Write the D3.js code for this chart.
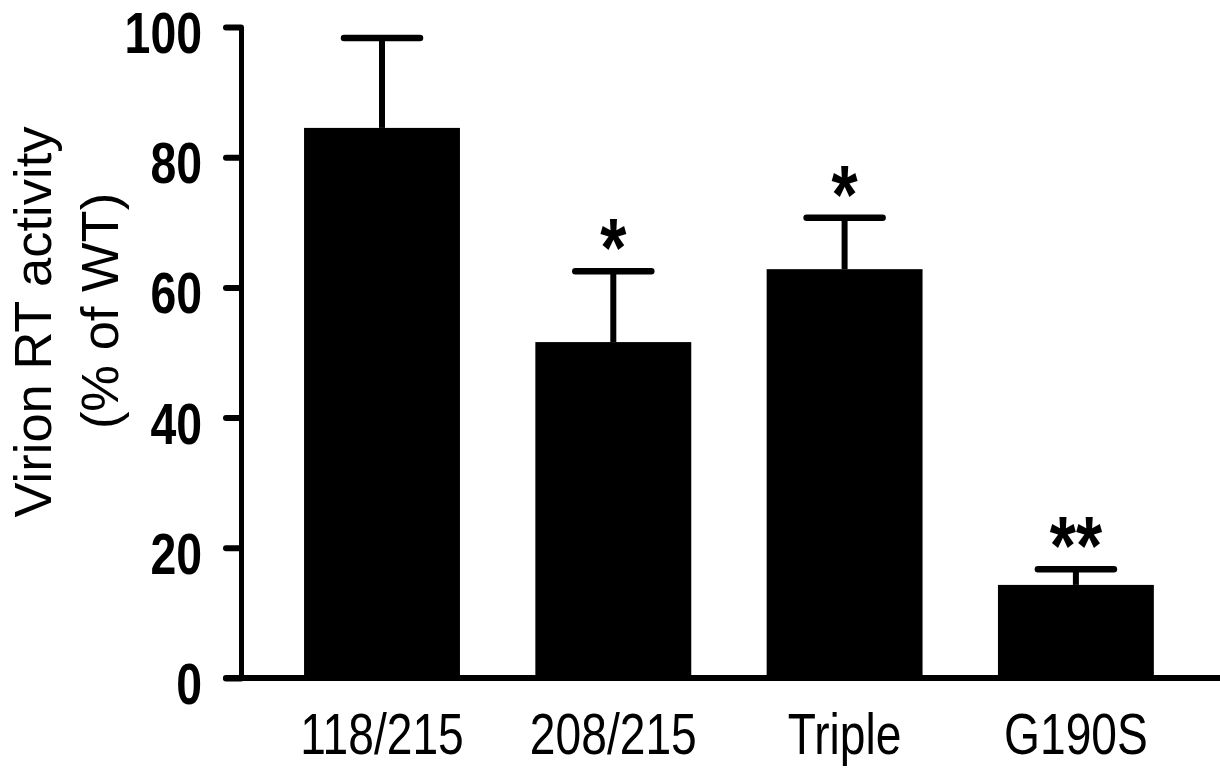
<!DOCTYPE html>
<html>
<head>
<meta charset="utf-8">
<script src="https://cdn.jsdelivr.net/npm/d3@7"></script>
<style>
  html, body { margin: 0; padding: 0; background: #fff; }
  svg { display: block; }
</style>
</head>
<body>
<svg id="chart" width="1220" height="768"></svg>
<script>
const categories = ["118/215", "208/215", "Triple", "G190S"];
const values     = [84.5, 51.6, 62.8, 14.3];
const errors     = [13.8, 10.9, 7.9, 2.4];
const stars      = ["", "*", "*", "**"];
const yTicks     = [0, 20, 40, 60, 80, 100];
const yTitle     = ["Virion RT activity", "(% of WT)"];

const svg = d3.select("#chart");
const narrow = "'Liberation Sans Narrow', 'Arial Narrow', 'Liberation Sans', Arial, sans-serif";
const regular = "'Liberation Sans', Arial, sans-serif";

// condense text horizontally (no narrow font installed)
function condense(sel, f) {
  sel.each(function() {
    const w = this.getComputedTextLength();
    d3.select(this).attr("textLength", w * f).attr("lengthAdjust", "spacingAndGlyphs");
  });
}

const y = d3.scaleLinear().domain([0, 100]).range([678, 27]);
const x = d3.scaleBand().domain(categories)
  .range([266.35, 1191.55]).paddingInner(0.326).paddingOuter(0.163);

// bars
svg.append("g").selectAll("rect").data(categories).join("rect")
  .attr("x", d => x(d))
  .attr("width", x.bandwidth())
  .attr("y", (d, i) => y(values[i]))
  .attr("height", (d, i) => y(0) - y(values[i]))
  .attr("fill", "#000");

// error bars
const eg = svg.append("g").attr("stroke", "#000").attr("stroke-linecap", "round");
categories.forEach((c, i) => {
  const cx = x(c) + x.bandwidth() / 2;
  const top = y(values[i] + errors[i]);
  eg.append("line").attr("x1", cx).attr("x2", cx)
    .attr("y1", y(values[i])).attr("y2", top).attr("stroke-width", 6).attr("stroke-linecap", "butt");
  eg.append("line").attr("x1", cx - 38).attr("x2", cx + 38)
    .attr("y1", top).attr("y2", top).attr("stroke-width", 6.5);
  if (stars[i]) {
    const t = svg.append("text").attr("x", cx).attr("y", top + 6)
      .attr("text-anchor", "middle")
      .attr("font-family", narrow).attr("font-weight", "bold")
      .attr("font-size", 84).text(stars[i]);
    condense(t, 0.8);
  }
});

// y axis
const yAxis = d3.axisLeft(y).tickValues(yTicks).tickSize(15).tickSizeOuter(0).tickPadding(24);
const gy = svg.append("g").attr("transform", "translate(241,0)").call(yAxis);
gy.select(".domain").attr("stroke", "#000").attr("stroke-width", 5);
gy.selectAll(".tick line").attr("stroke", "#000").attr("stroke-width", 6).attr("stroke-linecap", "round");
gy.selectAll(".tick text").attr("fill", "#000").attr("font-family", narrow)
  .attr("font-weight", "bold").attr("font-size", 58).attr("dy", "0.44em");
condense(gy.selectAll(".tick text"), 0.8);

// x axis
const xAxis = d3.axisBottom(x).tickSize(0).tickPadding(0);
const gx = svg.append("g").attr("transform", `translate(0,${y(0)})`).call(xAxis);
gx.select(".domain").remove();
gx.selectAll(".tick text").attr("fill", "#000").attr("font-family", narrow)
  .attr("font-weight", "normal").attr("font-size", 57).attr("y", 76).attr("dy", 0);
condense(gx.selectAll(".tick text"), 0.81);
svg.append("line").attr("x1", 226).attr("x2", 1220).attr("y1", y(0)).attr("y2", y(0))
  .attr("stroke", "#000").attr("stroke-width", 6).attr("stroke-linecap", "round");

// y title
svg.append("text").attr("transform", "translate(51,322) rotate(-90)")
  .attr("text-anchor", "middle").attr("font-family", regular).attr("font-size", 52.5)
  .attr("fill", "#000").text(yTitle[0]);
svg.append("text").attr("transform", "translate(118,311) rotate(-90)")
  .attr("text-anchor", "middle").attr("font-family", regular).attr("font-size", 52.5)
  .attr("fill", "#000").text(yTitle[1]);
</script>
</body>
</html>
